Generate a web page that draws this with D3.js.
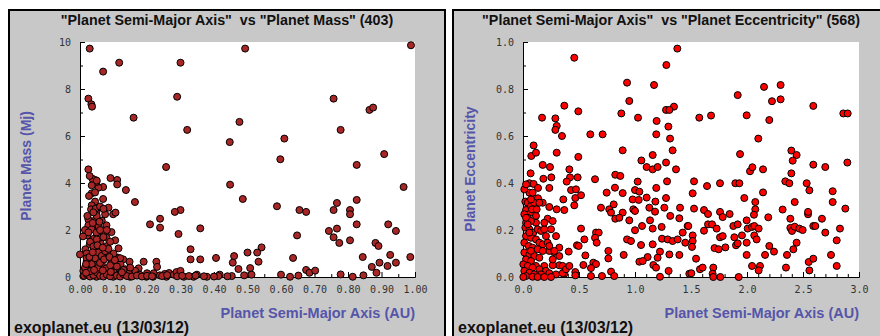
<!DOCTYPE html>
<html>
<head>
<meta charset="utf-8">
<script src="https://cdn.jsdelivr.net/npm/d3@7"></script>
<style>
  html, body { margin: 0; padding: 0; background: #fff; }
  svg { display: block; }
</style>
</head>
<body>
<svg id="chart" width="880" height="336"></svg>
<script>
// Semi-major axis (AU) vs planet mass (Mjup)
const massPoints = [
  [0.029,9.72],[0.493,9.72],[0.988,9.86],[0.117,9.12],[0.300,9.12],[0.069,8.74],[0.025,7.59],[0.034,7.35],
  [0.036,7.25],[0.290,7.67],[0.160,6.78],[0.757,7.59],[0.864,7.11],[0.875,7.21],[0.476,6.60],[0.320,6.26],
  [0.778,6.26],[0.447,5.74],[0.610,5.89],[0.598,5.01],[0.908,5.23],[0.826,4.77],[0.257,4.68],[0.025,4.58],
  [0.448,3.93],[0.966,3.83],[0.486,3.32],[0.767,3.15],[0.826,3.28],[0.588,3.01],[0.655,2.85],[0.675,2.77],
  [0.757,2.85],[0.806,2.85],[0.806,2.67],[0.826,2.24],[0.920,2.24],[0.943,1.96],[0.743,1.96],[0.767,2.06],
  [0.757,1.69],[0.774,1.45],[0.806,1.56],[0.648,1.77],[0.882,1.45],[0.891,1.32],[0.926,0.94],[0.986,0.85],
  [0.844,0.85],[0.871,0.43],[0.894,0.61],[0.918,0.47],[0.943,0.61],[0.885,0.18],[0.636,0.81],[0.675,0.30],
  [0.685,0.18],[0.702,0.27],[0.778,0.11],[0.814,0.01],[0.846,0.07],[0.600,0.10],[0.627,0.01],[0.652,0.06],
  [0.542,1.26],[0.529,1.04],[0.500,1.04],[0.533,0.65],[0.508,0.38],[0.473,0.34],[0.512,0.10],[0.490,0.07],
  [0.460,0.89],[0.456,0.61],[0.453,0.04],[0.406,0.81],[0.417,0.10],[0.413,0.04],[0.379,0.01],[0.359,0.75],
  [0.330,1.18],[0.330,0.75],[0.349,0.10],[0.339,0.01],[0.359,2.07],[0.300,2.85],[0.283,2.77],[0.294,1.83],
  [0.239,2.48],[0.239,2.10],[0.209,2.24],[0.228,0.65],[0.230,0.43],[0.238,0.07],[0.253,0.13],[0.266,0.17],
  [0.280,0.10],[0.288,0.21],[0.300,0.26],[0.310,0.01],[0.258,0.01],[0.220,0.16],[0.200,0.16],[0.190,0.65],
  [0.175,0.37],[0.165,0.26],[0.148,0.65],[0.178,0.10],[0.164,3.19],[0.137,3.70],[0.111,4.13],[0.111,3.94],
  [0.091,4.21],[0.069,3.83],[0.069,3.32],[0.085,2.95],[0.099,2.67],[0.106,2.74],[0.075,2.67],[0.055,3.80],
  [0.049,4.04],[0.045,4.13],[0.037,4.18],[0.029,4.30],[0.035,3.56],[0.027,3.45],[0.045,3.21],[0.035,3.05],
  [0.049,2.77],[0.025,2.45],[0.045,2.41],[0.025,2.20],[0.045,2.20],[0.056,2.14],[0.079,2.20],[0.069,1.89],
  [0.094,1.91],[0.079,1.67],[0.105,1.56],[0.115,1.22],[0.022,1.77],[0.009,1.73],[0.042,1.63],[0.061,1.46],
  [0.081,1.32],[0.029,1.39],[0.045,1.18],[0.055,1.04],[0.000,0.96],[0.031,0.96],[0.075,0.89],[0.085,1.04],
  [0.114,0.82],[0.129,0.75],[0.121,0.54],[0.099,0.61],[0.065,0.54],[0.039,0.65],[0.025,0.47],[0.049,0.33],
  [0.079,0.37],[0.105,0.33],[0.135,0.33],[0.089,0.11],[0.119,0.10],[0.145,0.16],[0.065,0.16],[0.029,0.16],
  [0.010,0.04],[0.049,0.01],[0.099,0.01],[0.149,0.01],[0.198,0.01],[0.218,0.01],[0.016,1.18],[0.020,0.68],
  [0.010,0.26],[0.059,1.67],[0.035,2.03],[0.049,1.89],[0.033,2.88],[0.047,2.91],
  [0.012,0.05],[0.020,0.12],[0.030,0.02],[0.040,0.08],[0.050,0.20],[0.060,0.05],[0.070,0.02],[0.080,0.10],
  [0.090,0.03],[0.100,0.20],[0.110,0.06],[0.120,0.02],[0.130,0.12],[0.140,0.04],[0.155,0.02],[0.170,0.06],
  [0.185,0.02],[0.200,0.05],[0.215,0.03],[0.245,0.04],[0.260,0.08],[0.290,0.03],[0.305,0.05],[0.325,0.04],
  [0.345,0.06],[0.370,0.03],[0.400,0.02],[0.440,0.03],[0.025,0.30],[0.035,0.55],[0.045,0.80],[0.055,0.40],
  [0.065,0.90],[0.075,1.10],[0.020,1.00],[0.030,1.50],[0.040,1.30],[0.050,1.60],[0.060,2.00],[0.070,1.70],
  [0.015,2.00],[0.025,1.90],[0.038,2.30],[0.050,2.60],[0.065,2.40],[0.080,2.00],[0.090,1.50],[0.100,1.00],
  [0.110,0.45],[0.095,0.70],[0.085,1.20],[0.020,0.80],[0.015,0.40],[0.030,0.25],[0.060,0.60],[0.090,0.50],
  [0.130,0.30],[0.120,0.80],[0.150,0.40],[0.045,3.60],[0.060,3.00],[0.035,3.90],[0.050,4.10],[0.070,2.90],
  [0.018,0.55],[0.028,0.85],[0.038,1.05],[0.052,1.35],[0.068,1.25],[0.022,2.60],[0.040,2.75],[0.058,2.35],
  [0.072,0.75],[0.088,0.85],[0.104,0.72],[0.018,0.18],[0.042,0.30],[0.068,0.28],[0.092,0.22],[0.125,0.20]
];

// Semi-major axis (AU) vs orbital eccentricity
const eccPoints = [
  [1.378,0.972],[0.458,0.933],[1.280,0.902],[0.929,0.827],[1.170,0.817],[0.949,0.749],[0.369,0.729],[1.348,0.725],
  [1.277,0.711],[1.307,0.711],[0.494,0.705],[0.878,0.696],[0.170,0.678],[0.289,0.675],[1.027,0.678],[1.193,0.664],
  [0.301,0.643],[0.289,0.626],[1.298,0.640],[0.601,0.607],[0.711,0.607],[1.190,0.607],[0.348,0.600],[1.313,0.589],
  [0.095,0.560],[0.074,0.515],[0.116,0.529],[0.301,0.529],[0.890,0.539],[0.494,0.511],[1.158,0.519],[1.336,0.539],
  [1.057,0.496],[0.176,0.477],[0.241,0.468],[0.414,0.458],[1.104,0.468],[1.158,0.458],[1.202,0.468],[1.277,0.487],
  [1.366,0.458],[0.068,0.441],[0.182,0.418],[0.253,0.424],[0.420,0.424],[0.488,0.424],[0.390,0.406],[0.643,0.416],
  [0.824,0.435],[0.869,0.430],[1.024,0.406],[1.286,0.407],[0.057,0.399],[0.095,0.396],[0.134,0.379],[0.235,0.379],
  [0.429,0.370],[0.473,0.373],[0.467,0.336],[0.518,0.348],[0.360,0.330],[0.458,0.305],[0.747,0.359],[0.821,0.380],
  [0.890,0.357],[1.000,0.370],[1.039,0.363],[0.979,0.330],[1.033,0.328],[1.104,0.338],[1.190,0.379],[1.182,0.321],
  [1.277,0.336],[0.021,0.321],[0.057,0.359],[0.095,0.338],[0.134,0.335],[0.176,0.316],[0.235,0.298],[0.301,0.288],
  [0.369,0.285],[0.696,0.295],[0.770,0.288],[0.810,0.309],[0.786,0.274],[0.890,0.274],[0.985,0.288],[1.000,0.281],
  [1.128,0.295],[1.179,0.278],[1.262,0.295],[1.402,0.295],[1.315,0.260],[0.824,0.248],[0.860,0.252],[0.949,0.241],
  [1.134,0.241],[0.027,0.285],[0.071,0.274],[0.116,0.260],[0.220,0.248],[0.265,0.238],[0.027,0.231],[0.116,0.231],
  [1.063,0.217],[1.158,0.206],[1.238,0.213],[1.000,0.199],[1.396,0.250],[1.470,0.217],[0.518,0.206],[1.426,0.189],
  [0.548,0.160],[0.652,0.189],[0.676,0.189],[0.643,0.167],[0.658,0.146],[0.762,0.111],[0.762,0.079],[0.929,0.160],
  [0.964,0.153],[1.054,0.136],[1.241,0.163],[1.292,0.160],[1.336,0.153],[1.381,0.160],[1.158,0.139],[1.449,0.146],
  [0.482,0.135],[0.497,0.132],[0.324,0.125],[0.408,0.108],[0.274,0.106],[0.235,0.111],[1.223,0.108],[1.307,0.096],
  [1.396,0.094],[0.557,0.092],[0.899,0.094],[1.113,0.085],[1.202,0.082],[1.039,0.065],[1.069,0.068],[1.164,0.051],
  [1.188,0.040],[1.300,0.026],[1.485,0.014],[0.628,0.061],[0.652,0.055],[0.607,0.038],[0.539,0.051],[0.786,0.023],
  [0.467,0.021],[0.467,0.007],[0.369,0.014],[0.324,0.050],[0.265,0.050],[0.190,0.047],[0.116,0.047],[0.705,0.004],
  [0.815,0.004],[0.607,0.004],[1.223,0.001],
  [0.012,0.267],[0.042,0.252],[0.071,0.238],[0.021,0.210],[0.057,0.203],[0.092,0.189],[0.131,0.203],[0.161,0.196],
  [0.190,0.203],[0.205,0.174],[0.027,0.174],[0.071,0.167],[0.116,0.160],[0.146,0.146],[0.176,0.139],[0.220,0.146],
  [0.012,0.146],[0.051,0.132],[0.086,0.125],[0.131,0.118],[0.176,0.111],[0.012,0.104],[0.057,0.096],[0.101,0.089],
  [0.146,0.082],[0.027,0.075],[0.071,0.068],[0.003,0.054],[0.042,0.047],[0.086,0.040],[0.146,0.033],[0.205,0.026],
  [0.012,0.026],[0.057,0.018],[0.101,0.011],[0.161,0.011],[0.235,0.016],[0.295,0.011],[0.354,0.016],[0.027,0.004],
  [0.086,0.001],[0.131,0.000],[0.190,0.000],[0.250,0.000],[0.003,0.000],[0.042,0.316],[0.071,0.302],[0.101,0.316],
  [0.146,0.316],[0.012,0.373],[0.027,0.394],[0.071,0.330],[0.086,0.359],[0.027,0.252],[0.080,0.288],[0.122,0.288],
  [0.190,0.231],[0.250,0.203],[0.295,0.174],[0.235,0.132],[0.280,0.111],[0.324,0.089],[0.265,0.075],[0.354,0.047],
  [0.384,0.033],[0.414,0.047],[0.071,0.111],[0.057,0.189],[0.042,0.224],
  [2.152,0.809],[2.300,0.817],[1.917,0.774],[2.223,0.748],[2.300,0.756],[2.592,0.728],[1.574,0.678],[1.679,0.687],
  [1.997,0.688],[2.199,0.668],[2.860,0.696],[2.899,0.696],[2.101,0.589],[1.938,0.523],[2.396,0.538],[2.443,0.519],
  [2.408,0.495],[2.027,0.450],[2.048,0.467],[2.143,0.458],[2.592,0.478],[2.699,0.468],[2.896,0.487],[2.396,0.441],
  [1.527,0.407],[1.515,0.356],[1.643,0.387],[1.759,0.399],[1.896,0.399],[1.932,0.399],[2.342,0.407],[2.378,0.399],
  [2.533,0.399],[2.557,0.369],[2.765,0.365],[2.143,0.360],[1.976,0.336],[2.074,0.319],[2.426,0.319],[2.765,0.319],
  [1.527,0.291],[1.616,0.285],[1.652,0.268],[1.759,0.277],[1.783,0.255],[1.845,0.268],[2.074,0.288],[2.062,0.265],
  [2.190,0.254],[2.318,0.287],[2.387,0.248],[2.545,0.267],[2.545,0.277],[2.669,0.248],[2.878,0.291],[1.476,0.217],
  [1.515,0.177],[1.515,0.153],[1.509,0.128],[1.616,0.197],[1.652,0.224],[1.688,0.224],[1.729,0.206],[1.759,0.169],
  [1.783,0.174],[1.878,0.217],[1.917,0.224],[1.997,0.241],[1.955,0.177],[2.006,0.206],[2.045,0.213],[2.065,0.217],
  [2.104,0.206],[2.065,0.177],[2.086,0.160],[1.887,0.169],[1.902,0.135],[1.917,0.143],[1.997,0.146],[2.387,0.209],
  [2.402,0.196],[2.426,0.214],[2.467,0.206],[2.497,0.200],[2.592,0.217],[2.610,0.217],[2.699,0.189],[2.830,0.206],
  [2.801,0.156],[2.443,0.146],[2.414,0.118],[2.199,0.132],[2.241,0.108],[2.161,0.094],[2.357,0.094],[1.997,0.094],
  [1.710,0.123],[1.747,0.118],[1.807,0.126],[1.545,0.078],[1.580,0.033],[1.604,0.040],[1.699,0.040],[1.693,0.014],
  [1.699,0.000],[1.762,0.000],[1.926,0.000],[1.503,0.016],[2.045,0.047],[2.116,0.047],[2.104,0.028],[2.348,0.040],
  [2.551,0.064],[2.592,0.078],[2.557,0.028],[2.750,0.094],[2.801,0.047]
];

// Axis ticks and labels
const massXMajor = [0, 0.1, 0.2, 0.3, 0.4, 0.5, 0.6, 0.7, 0.8, 0.9, 1.0];
const massXMinor = [0.05, 0.15, 0.25, 0.35, 0.45, 0.55, 0.65, 0.75, 0.85, 0.95];
const massYMajor = [0, 2, 4, 6, 8, 10];
const massYMinor = [1, 3, 5, 7, 9];
const eccXMajor = [0, 0.5, 1.0, 1.5, 2.0, 2.5, 3.0];
const eccXMinor = [0.1,0.2,0.3,0.4,0.6,0.7,0.8,0.9,1.1,1.2,1.3,1.4,1.6,1.7,1.8,1.9,2.1,2.2,2.3,2.4,2.6,2.7,2.8,2.9];
const eccYMajor = [0, 0.2, 0.4, 0.6, 0.8, 1.0];
const eccYMinor = [0.1, 0.3, 0.5, 0.7, 0.9];

const titles = ['"Planet Semi-Major Axis"  vs "Planet Mass" (403)',
                '"Planet Semi-Major Axis"  vs "Planet Eccentricity" (568)'];
const yLabels = ["Planet Mass (Mj)", "Planet Eccentricity"];
const xLabel = "Planet Semi-Major Axis (AU)";
const footer = "exoplanet.eu (13/03/12)";

const svg = d3.select("#chart");
const labelFont = "'Liberation Sans', Arial, sans-serif";
const tickFont = "'DejaVu Sans Mono', monospace";

const panels = [
  { px: 8, points: massPoints, xDomain: [0, 1], yDomain: [0, 10],
    plot: { left: 80, right: 415, top: 42, bottom: 277 },
    xMajor: massXMajor, xMinor: massXMinor, yMajor: massYMajor, yMinor: massYMinor,
    xFmt: d3.format(".2f"), yFmt: d3.format("d"),
    fill: "#a82626", title: titles[0], yLabel: yLabels[0], yLabelX: 31, yLabelY: 166 },
  { px: 452, points: eccPoints, xDomain: [0, 3], yDomain: [0, 1],
    plot: { left: 523, right: 859, top: 42, bottom: 277 },
    xMajor: eccXMajor, xMinor: eccXMinor, yMajor: eccYMajor, yMinor: eccYMinor,
    xFmt: d3.format(".1f"), yFmt: d3.format(".1f"),
    fill: "#ff0000", title: titles[1], yLabel: yLabels[1], yLabelX: 475, yLabelY: 169 }
];

panels.forEach(p => {
  const g = svg.append("g");
  const W = 438;

  // grey frame
  g.append("rect")
    .attr("x", p.px + 1).attr("y", 10)
    .attr("width", W - 2).attr("height", 340)
    .attr("fill", "#c8c8c8")
    .attr("stroke", "#000").attr("stroke-width", 2);

  g.append("text")
    .attr("x", p.px + W / 2).attr("y", 25)
    .attr("text-anchor", "middle")
    .style("white-space", "pre")
    .attr("font-family", labelFont).attr("font-weight", "bold").attr("font-size", 14.3)
    .attr("fill", "#111")
    .text(p.title);

  const pl = p.plot;
  g.append("rect")
    .attr("x", pl.left).attr("y", pl.top)
    .attr("width", pl.right - pl.left).attr("height", pl.bottom - pl.top)
    .attr("fill", "#fff");

  const x = d3.scaleLinear().domain(p.xDomain).range([pl.left, pl.right]);
  const y = d3.scaleLinear().domain(p.yDomain).range([pl.bottom, pl.top]);

  const styleAxis = sel => {
    sel.attr("font-family", tickFont).attr("font-size", 10);
    sel.selectAll("text").attr("fill", "#333");
    sel.selectAll("line").attr("stroke", "#000");
    sel.select(".domain").attr("stroke", "#000");
  };

  // minor ticks (inward, unlabeled)
  g.append("g").attr("transform", `translate(0,${pl.bottom})`)
    .call(d3.axisBottom(x).tickValues(p.xMinor).tickSizeInner(-3).tickSizeOuter(0).tickFormat(""))
    .call(styleAxis);
  g.append("g").attr("transform", `translate(${pl.left},0)`)
    .call(d3.axisLeft(y).tickValues(p.yMinor).tickSizeInner(-3).tickSizeOuter(0).tickFormat(""))
    .call(styleAxis);

  // major ticks with labels
  g.append("g").attr("transform", `translate(0,${pl.bottom})`)
    .call(d3.axisBottom(x).tickValues(p.xMajor).tickSizeInner(-5).tickSizeOuter(0)
      .tickPadding(9).tickFormat(p.xFmt))
    .call(styleAxis);
  g.append("g").attr("transform", `translate(${pl.left},0)`)
    .call(d3.axisLeft(y).tickValues(p.yMajor).tickSizeInner(-5).tickSizeOuter(0)
      .tickPadding(9).tickFormat(p.yFmt))
    .call(styleAxis);

  // planets
  g.append("g").selectAll("circle")
    .data(p.points)
    .join("circle")
    .attr("cx", d => x(d[0]))
    .attr("cy", d => y(d[1]))
    .attr("r", 3.5)
    .attr("fill", p.fill)
    .attr("stroke", "#000")
    .attr("stroke-width", 1);

  // axis titles
  g.append("text")
    .attr("transform", `translate(${p.yLabelX},${p.yLabelY}) rotate(-90)`)
    .attr("text-anchor", "middle")
    .attr("font-family", labelFont).attr("font-weight", "bold").attr("font-size", 14)
    .attr("fill", "#5555aa")
    .text(p.yLabel);

  g.append("text")
    .attr("x", pl.right).attr("y", 318)
    .attr("text-anchor", "end")
    .attr("font-family", labelFont).attr("font-weight", "bold").attr("font-size", 14.5)
    .attr("fill", "#5555aa")
    .text(xLabel);

  g.append("text")
    .attr("x", p.px + 6).attr("y", 333)
    .attr("font-family", labelFont).attr("font-weight", "bold").attr("font-size", 16)
    .attr("fill", "#111")
    .text(footer);
});
</script>
</body>
</html>
